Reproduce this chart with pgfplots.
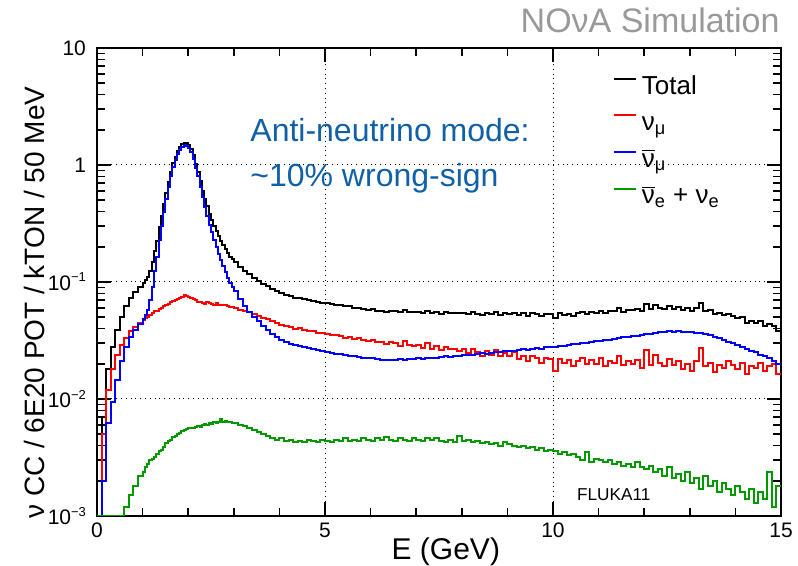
\documentclass[border=0pt]{standalone}
\usepackage{fontspec}
\setmainfont{Liberation Sans}
\usepackage{pgfplots}
\usepackage{pgfplotstable}
\pgfplotsset{compat=1.18}
\definecolor{rootgreen}{RGB}{0,153,0}
\definecolor{annblue}{RGB}{16,96,168}
\newcommand\nubar{\ensuremath{\overline{\mbox{ν}}}}
\newcommand\lstrut{\rule[-5pt]{0pt}{21.8pt}}
\newcommand\expo[1]{\raisebox{0.42em}{\fontsize{6.5}{7}\selectfont #1}}
\pgfplotstableread{
E T R B G
0.0 0.001 0.001 0.001 0.001
0.1 0.007 0.005 0.002 0.001
0.2 0.018 0.012 0.0062 0.001
0.3 0.028 0.018 0.0095 0.001
0.4 0.039 0.024 0.0145 0.001
0.5 0.050 0.029 0.021 0.001
0.6 0.062 0.033 0.028 0.0012
0.7 0.073 0.038 0.034 0.0015
0.8 0.082 0.041 0.039 0.0018
0.9 0.091 0.045 0.044 0.0022
1.00 0.0974 0.047 0.048 0.0024
1.05 0.1036 0.049 0.052 0.0026
1.10 0.1108 0.050 0.058 0.0028
1.15 0.125 0.052 0.070 0.0030
1.20 0.147 0.054 0.090 0.0031
1.25 0.184 0.056 0.125 0.0032
1.30 0.225 0.057 0.165 0.0034
1.35 0.293 0.059 0.23 0.0036
1.40 0.364 0.060 0.30 0.0037
1.45 0.466 0.062 0.40 0.0039
1.50 0.577 0.063 0.51 0.0042
1.55 0.719 0.065 0.65 0.0044
1.60 0.872 0.067 0.80 0.0045
1.65 1.034 0.069 0.96 0.0047
1.70 1.175 0.070 1.10 0.0048
1.75 1.317 0.072 1.24 0.0050
1.80 1.428 0.073 1.35 0.0051
1.85 1.510 0.075 1.43 0.0053
1.90 1.552 0.077 1.47 0.0054
1.95 1.542 0.076 1.46 0.0055
2.00 1.480 0.074 1.40 0.0056
2.05 1.359 0.073 1.28 0.0056
2.10 1.207 0.071 1.13 0.0057
2.15 1.026 0.070 0.95 0.0058
2.20 0.874 0.068 0.80 0.0059
2.25 0.723 0.067 0.65 0.0058
2.30 0.602 0.066 0.53 0.0060
2.35 0.511 0.065 0.44 0.0061
2.40 0.443 0.067 0.37 0.0060
2.45 0.382 0.066 0.31 0.0062
2.50 0.341 0.065 0.27 0.0061
2.55 0.300 0.064 0.23 0.0063
2.60 0.272 0.066 0.20 0.0062
2.65 0.245 0.064 0.175 0.0064
2.70 0.225 0.063 0.155 0.0068
2.75 0.207 0.064 0.137 0.0063
2.80 0.192 0.063 0.122 0.0065
2.85 0.177 0.062 0.109 0.0063
2.90 0.165 0.061 0.098 0.0064
2.95 0.157 0.061 0.090 0.0062
3.0 0.149 0.060 0.083 0.0062
3.1 0.135 0.058 0.071 0.0060
3.2 0.125 0.057 0.062 0.0059
3.3 0.116 0.055 0.055 0.0056
3.4 0.108 0.053 0.050 0.0054
3.5 0.102 0.051 0.046 0.0052
3.6 0.096 0.049 0.042 0.0050
3.7 0.092 0.048 0.039 0.0048
3.8 0.087 0.046 0.036 0.0046
3.9 0.084 0.045 0.034 0.0045
4.0 0.080 0.043 0.032 0.0046
4.1 0.0769 0.042 0.0305 0.0044
4.2 0.0755 0.0415 0.0295 0.0045
4.3 0.0731 0.040 0.0288 0.0043
4.4 0.0731 0.0405 0.0282 0.0044
4.5 0.0711 0.039 0.0278 0.0043
4.6 0.0702 0.0385 0.0272 0.0045
4.7 0.0689 0.038 0.0265 0.0044
4.8 0.0675 0.037 0.0262 0.0043
4.9 0.0666 0.0365 0.0256 0.0045
5.0 0.0656 0.036 0.0252 0.0044
5.1 0.0647 0.0355 0.0249 0.0043
5.2 0.0638 0.035 0.0243 0.0045
5.3 0.0631 0.0345 0.0242 0.0044
5.4 0.0618 0.0335 0.0237 0.0046
5.5 0.0619 0.034 0.0235 0.0044
5.6 0.0601 0.0325 0.0231 0.0045
5.7 0.0603 0.033 0.0229 0.0044
5.8 0.0592 0.032 0.0226 0.0046
5.9 0.0582 0.0315 0.0222 0.0045
6.0 0.0587 0.032 0.0223 0.0044
6.1 0.0569 0.0305 0.0218 0.0046
6.2 0.0570 0.031 0.0215 0.0045
6.3 0.0559 0.0295 0.0217 0.0047
6.4 0.0564 0.0305 0.0214 0.0045
6.5 0.0560 0.030 0.0216 0.0044
6.6 0.0550 0.0285 0.0219 0.0046
6.7 0.0576 0.0315 0.0216 0.0045
6.8 0.0553 0.029 0.0219 0.0044
6.9 0.0552 0.0285 0.0221 0.0046
7.0 0.0557 0.029 0.0222 0.0045
7.1 0.0539 0.0275 0.0220 0.0044
7.2 0.0570 0.030 0.0224 0.0046
7.3 0.0541 0.027 0.0226 0.0045
7.4 0.0555 0.0285 0.0224 0.0046
7.5 0.0532 0.026 0.0228 0.0044
7.6 0.0554 0.028 0.0231 0.0043
7.7 0.0539 0.0265 0.0229 0.0045
7.8 0.0547 0.027 0.0234 0.0043
7.9 0.0538 0.0255 0.0235 0.0048
8.0 0.0546 0.0265 0.0237 0.0044
8.1 0.0529 0.0245 0.0239 0.0045
8.2 0.0549 0.027 0.0236 0.0043
8.3 0.0536 0.025 0.0242 0.0044
8.4 0.0523 0.0235 0.0246 0.0042
8.5 0.0541 0.0255 0.0243 0.0043
8.6 0.0530 0.024 0.0249 0.0041
8.7 0.0554 0.026 0.0252 0.0042
8.8 0.0525 0.0235 0.0250 0.0040
8.9 0.0544 0.0245 0.0256 0.0043
9.0 0.0535 0.0235 0.0259 0.0041
9.1 0.0547 0.025 0.0257 0.0040
9.2 0.0521 0.022 0.0262 0.0039
9.3 0.0541 0.0235 0.0266 0.0040
9.4 0.0512 0.021 0.0264 0.0038
9.5 0.0543 0.0235 0.0269 0.0039
9.6 0.0533 0.0225 0.0271 0.0037
9.7 0.0513 0.0205 0.0270 0.0038
9.8 0.0537 0.0225 0.0276 0.0036
9.9 0.0535 0.022 0.0278 0.0037
10.0 0.0491 0.0175 0.0280 0.0036
10.1 0.0538 0.022 0.0284 0.0034
10.2 0.0522 0.0205 0.0282 0.0035
10.3 0.0537 0.0215 0.0289 0.0033
10.4 0.0517 0.019 0.0293 0.0034
10.5 0.0539 0.021 0.0297 0.0032
10.6 0.0556 0.0225 0.0301 0.0030
10.7 0.0534 0.020 0.0299 0.0035
10.8 0.0551 0.0215 0.0307 0.0029
10.9 0.0542 0.020 0.0311 0.0031
11.0 0.0569 0.0225 0.0314 0.0030
11.1 0.0538 0.019 0.0319 0.0029
11.2 0.0562 0.021 0.0322 0.0030
11.3 0.0560 0.0205 0.0327 0.0028
11.4 0.0594 0.0235 0.0330 0.0029
11.5 0.0558 0.0195 0.0336 0.0027
11.6 0.0577 0.021 0.0339 0.0028
11.7 0.0571 0.020 0.0345 0.0026
11.8 0.0592 0.0215 0.0348 0.0029
11.9 0.0564 0.0185 0.0353 0.0026
12.0 0.0643 0.026 0.0358 0.0025
12.1 0.0584 0.0195 0.0362 0.0027
12.2 0.0632 0.024 0.0368 0.0024
12.3 0.0601 0.0205 0.0371 0.0025
12.4 0.0587 0.019 0.0375 0.0022
12.5 0.0624 0.022 0.0378 0.0026
12.6 0.0593 0.0195 0.0377 0.0021
12.7 0.0613 0.021 0.0380 0.0023
12.8 0.0577 0.018 0.0377 0.0020
12.9 0.0599 0.020 0.0375 0.0024
13.0 0.0566 0.0175 0.0372 0.0019
13.1 0.0601 0.021 0.0370 0.0021
13.2 0.0656 0.0275 0.0364 0.0017
13.3 0.0570 0.019 0.0358 0.0022
13.4 0.0573 0.0205 0.0350 0.0018
13.5 0.0531 0.017 0.0341 0.0020
13.6 0.0542 0.0195 0.0331 0.0016
13.7 0.0524 0.0185 0.0320 0.0019
13.8 0.0537 0.021 0.0310 0.0017
13.9 0.0510 0.0195 0.0300 0.0015
14.0 0.0489 0.018 0.0291 0.0018
14.1 0.0501 0.0205 0.0280 0.0016
14.2 0.0448 0.0165 0.0269 0.0014
14.3 0.0465 0.019 0.0258 0.0017
14.4 0.0448 0.0185 0.0250 0.0013
14.5 0.0461 0.0205 0.0240 0.0016
14.6 0.0421 0.0175 0.0232 0.0014
14.7 0.0438 0.019 0.0224 0.0024
14.8 0.0424 0.020 0.0212 0.0012
14.9 0.0383 0.0165 0.0200 0.0018
15.0 0.0383 0.0165 0.0200 0.0018
}\spectra
\begin{document}
\begin{tikzpicture}
\useasboundingbox (-48.5pt,-25pt) rectangle (350.5pt,258pt);
\begin{axis}[
  at={(0pt,0pt)}, anchor=south west,
  scale only axis, width=342pt, height=234pt,
  xmin=0, xmax=15, ymin=1e-3, ymax=10, ymode=log,
  clip mode=individual,
  xtick={0,5,10,15}, xticklabels={0,5,10,15},
  minor x tick num=4,
  ytick={0.001,0.01,0.1,1,10},
  yticklabels={10\expo{−3},10\expo{−2},10\expo{−1},1,10},
  minor ytick={0.002,0.003,0.004,0.005,0.006,0.007,0.008,0.009,0.02,0.03,0.04,0.05,0.06,0.07,0.08,0.09,0.2,0.3,0.4,0.5,0.6,0.7,0.8,0.9,2,3,4,5,6,7,8,9},
  tick align=inside,
  major tick length=7pt, minor tick length=4pt,
  every tick/.style={black, line width=0.8pt},
  axis line style={line width=1pt},
  grid=major,
  major grid style={dotted, black, line width=0.5pt},
  tick label style={font=\fontsize{10.5}{12}\selectfont},
  yticklabel style={xshift=-2pt},
  xlabel={E (GeV)},
  ylabel={ν CC / 6E20 POT / kTON / 50 MeV},
  xlabel style={at={(axis description cs:0.51,-0.092)}, anchor=base, font=\fontsize{15}{18}\selectfont},
  ylabel style={at={(axis description cs:-0.0915,0.456)}, anchor=center, font=\fontsize{14}{16}\selectfont},
  legend style={at={(axis description cs:0.7548,0.9735)}, anchor=north west, draw=none, fill=none,
    inner sep=0pt, outer sep=0pt, row sep=0pt, column sep=2.5pt,
    font=\fontsize{13}{15}\selectfont, nodes={inner sep=0pt}, cells={anchor=west}},
  legend cell align=left,
  legend image code/.code={\draw[#1] (0pt,0pt) -- (10.8pt,0pt);},
]
\addplot[black, line width=1pt, const plot mark left] table[x=E,y=T]{\spectra};
\addlegendentry{\lstrut Total}
\addplot[red, line width=1pt, const plot mark left] table[x=E,y=R]{\spectra};
\addlegendentry{\lstrut ν\textsubscript{μ}}
\addplot[blue, line width=1pt, const plot mark left] table[x=E,y=B]{\spectra};
\addlegendentry{\lstrut \nubar\textsubscript{μ}}
\addplot[rootgreen, line width=1pt, const plot mark left] table[x=E,y=G]{\spectra};
\addlegendentry{\lstrut \nubar\textsubscript{e} + ν\textsubscript{e}}
\node[anchor=base west, inner sep=0pt, font=\fontsize{16}{19}\selectfont, text=annblue] at (axis description cs:0.2237,0.7998) {Anti-neutrino mode:};
\node[anchor=base west, inner sep=0pt, font=\fontsize{16}{19}\selectfont, text=annblue] at (axis description cs:0.2237,0.705) {\textasciitilde 10\% wrong-sign};
\node[anchor=base west, inner sep=0pt, font=\fontsize{8.6}{10}\selectfont] at (axis description cs:0.7013,0.0327) {FLUKA11};
\node[anchor=base east, inner sep=0pt, font=\fontsize{17}{20}\selectfont, text=black!40] at (axis description cs:0.9985,1.034) {NOνA Simulation};
\end{axis}
\end{tikzpicture}
\end{document}
